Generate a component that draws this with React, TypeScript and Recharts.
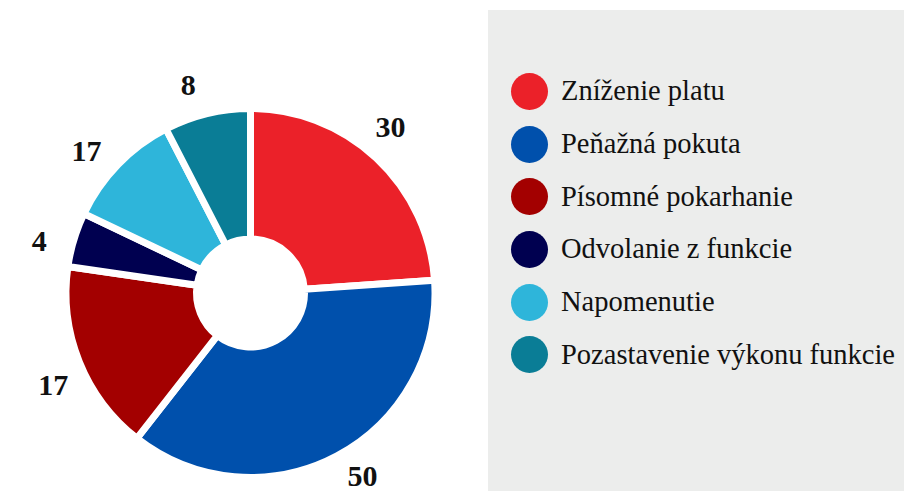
import React from 'react';
import { PieChart, Pie, Cell, Legend } from 'recharts';

const categories = [
    'Zníženie platu',
    'Peňažná pokuta',
    'Písomné pokarhanie',
    'Odvolanie z funkcie',
    'Napomenutie',
    'Pozastavenie výkonu funkcie',
];
// slice sizes
const sliceValues = [30, 46, 21, 6, 13, 9.5];
// numbers printed next to the slices
const valueLabels = ['30', '50', '17', '4', '17', '8'];
const COLORS = ['#EB2129', '#0050AC', '#A30000', '#000050', '#2EB5DA', '#0A7D96'];

const data = categories.map((name, i) => ({ name, value: sliceValues[i], label: valueLabels[i] }));

const RAD = Math.PI / 180;
const FONT = '"Liberation Serif", "DejaVu Serif", serif';
const H = 491;

function renderLabel(props: any) {
    const { cx, cy, midAngle, outerRadius, index } = props;
    const r = outerRadius + 33;
    const x = cx + r * Math.cos(-(midAngle + 3) * RAD);
    // keep the text inside the chart
    const y = Math.min(cy + r * Math.sin(-(midAngle + 3) * RAD), H - 16);
    return (
        <text
            x={x}
            y={y}
            textAnchor="middle"
            dominantBaseline="central"
            fill="#111"
            fontFamily={FONT}
            fontWeight="bold"
            fontSize={30}
        >
            {valueLabels[index]}
        </text>
    );
}

function renderLegend() {
    return (
        <div style={{ paddingTop: 55, paddingLeft: 23 }}>
            {categories.map((name, i) => (
                <div key={name} style={{ display: 'flex', alignItems: 'center', height: 52.7 }}>
                    <span
                        style={{
                            width: 37,
                            height: 37,
                            borderRadius: '50%',
                            background: COLORS[i],
                            display: 'inline-block',
                            marginRight: 13,
                            flexShrink: 0,
                        }}
                    />
                    <span style={{ fontFamily: FONT, fontSize: 28.5, color: '#111', whiteSpace: 'nowrap' }}>{name}</span>
                </div>
            ))}
        </div>
    );
}

export default function App() {
    return (
        <div style={{ position: 'absolute', left: 0, top: 0, width: 904, height: H, background: '#fff' }}>
            <PieChart width={904} height={H} margin={{ top: 0, right: 0, bottom: 0, left: 0 }}>
                <Pie
                    data={data}
                    dataKey="value"
                    nameKey="name"
                    cx={250.5}
                    cy={293}
                    innerRadius={54}
                    outerRadius={184.5}
                    startAngle={90}
                    endAngle={-270}
                    stroke="#fff"
                    strokeWidth={7}
                    label={renderLabel}
                    labelLine={false}
                    isAnimationActive={false}
                >
                    {data.map((_, index) => (
                        <Cell key={`cell-${index}`} fill={COLORS[index]} />
                    ))}
                </Pie>
                <Legend
                    content={renderLegend}
                    wrapperStyle={{
                        position: 'absolute',
                        left: 488,
                        top: 10,
                        width: 416,
                        height: 481,
                        background: '#ECEDEC',
                        boxSizing: 'border-box',
                    }}
                />
            </PieChart>
        </div>
    );
}
